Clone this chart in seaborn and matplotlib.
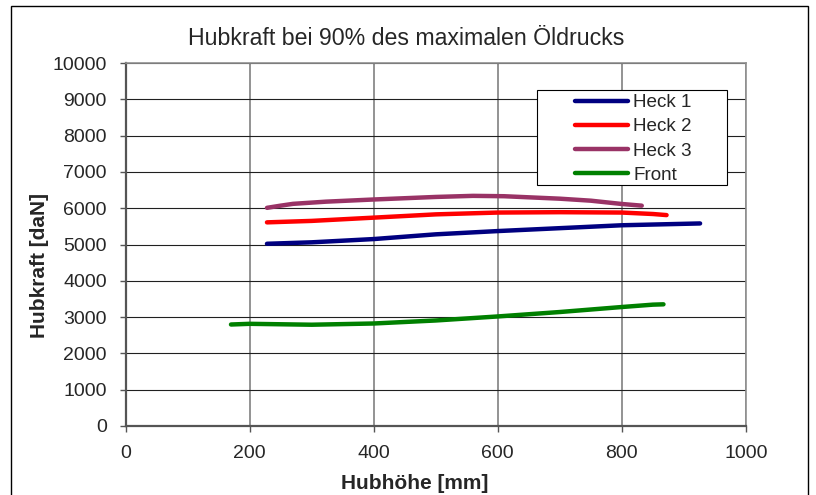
import pandas as pd
import matplotlib
matplotlib.use('Agg')
import matplotlib.pyplot as plt
import seaborn as sns
from matplotlib.patches import Rectangle

# data
heck1_x = [228, 300, 400, 500, 600, 700, 800, 926]
heck1_y = [5020, 5060, 5150, 5280, 5370, 5450, 5530, 5580]

heck2_x = [228, 300, 400, 500, 600, 700, 800, 850, 872]
heck2_y = [5610, 5650, 5740, 5830, 5880, 5890, 5880, 5840, 5810]

heck3_x = [228, 250, 270, 323, 400, 500, 560, 610, 700, 750, 800, 832]
heck3_y = [6010, 6070, 6120, 6180, 6240, 6310, 6340, 6330, 6262, 6207, 6116, 6070]

front_x = [170, 200, 300, 400, 500, 600, 700, 800, 850, 867]
front_y = [2796, 2815, 2790, 2824, 2907, 3018, 3140, 3278, 3343, 3352]

series = ['Heck 1', 'Heck 2', 'Heck 3', 'Front']
colors = {'Heck 1': '#000080', 'Heck 2': '#FF0000', 'Heck 3': '#993366', 'Front': '#008000'}

frames = []
for name, xs, ys in zip(series, [heck1_x, heck2_x, heck3_x, front_x],
                        [heck1_y, heck2_y, heck3_y, front_y]):
    frames.append(pd.DataFrame({'Hubhoehe': xs, 'Hubkraft': ys, 'Serie': name}))
df = pd.concat(frames, ignore_index=True)

sns.set_style('white')
plt.rcParams['font.family'] = ['Liberation Sans', 'DejaVu Sans']

W, H = 816, 495
fig = plt.figure(figsize=(W / 100, H / 100), dpi=100)
ax = fig.add_axes([125.5 / W, 1 - 426 / H, (746 - 125.5) / W, (426 - 63) / H])

sns.lineplot(data=df, x='Hubhoehe', y='Hubkraft', hue='Serie', hue_order=series,
             palette=colors, sort=False, estimator=None, linewidth=3.2,
             solid_capstyle='round', ax=ax)

ax.set_xlim(0, 1000)
ax.set_ylim(0, 10000)
ax.set_xticks(range(0, 1001, 200))
ax.set_yticks(range(0, 10001, 1000))
ax.xaxis.grid(True, color='#808080', linewidth=1.2)
ax.yaxis.grid(True, color='#202020', linewidth=0.8)
ax.set_axisbelow(True)
for s in ['left', 'bottom']:
    ax.spines[s].set_color('#555555')
    ax.spines[s].set_linewidth(1.6)
for s in ['top', 'right']:
    ax.spines[s].set_color('#909090')
    ax.spines[s].set_linewidth(1.2)
ax.tick_params(axis='both', which='major', direction='out', length=4.5, width=1,
               color='#555555', labelsize=14, bottom=True, left=True, pad=9)

# labels and title placed in figure pixels like the Excel original
ax.set_xlabel('Hubhöhe [mm]', fontsize=15, fontweight='bold')
ax.xaxis.set_label_coords(415 / W, 1 - 474 / H, transform=fig.transFigure)
ax.set_ylabel('Hubkraft [daN]', fontsize=15, fontweight='bold')
ax.yaxis.set_label_coords(30 / W, 1 - 265 / H, transform=fig.transFigure)
ax.yaxis.label.set_va('top')
fig.text(406 / W, 1 - 45 / H, 'Hubkraft bei 90% des maximalen Öldrucks',
         fontsize=16.7, ha='center', va='baseline')

# legend box drawn as a separate white rectangle (wide Excel style frame)
ax.add_patch(Rectangle((537 / W, 1 - 185 / H), 190 / W, 95 / H,
                       transform=fig.transFigure, facecolor='white',
                       edgecolor='black', linewidth=0.8, zorder=4, clip_on=False))
leg = ax.legend(loc='upper left', bbox_to_anchor=(575 / W, 1 - 94 / H),
                bbox_transform=fig.transFigure, frameon=False, fontsize=13.6,
                handlelength=2.8, handletextpad=0.28, labelspacing=0.37,
                borderpad=0, borderaxespad=0)
leg.set_zorder(5)
for line in leg.get_lines():
    line.set_linewidth(3.2)

fig.patches.append(Rectangle((11 / W, -0.02), (808 - 11) / W, 1.02 - 6 / H,
                             transform=fig.transFigure, fill=False,
                             edgecolor='black', linewidth=1))

fig.savefig('out.png', dpi=100)
